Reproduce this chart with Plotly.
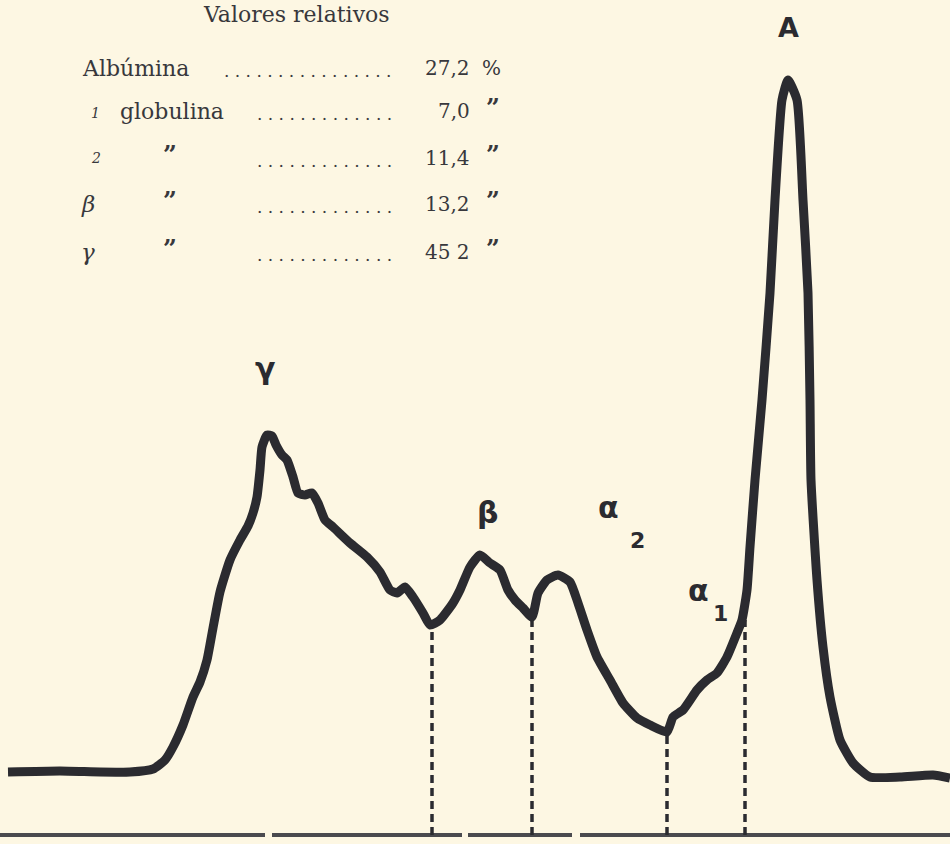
import plotly.graph_objects as go

position = [8, 60, 100, 130, 153, 165, 173, 183, 193, 200, 207, 213, 220, 230, 240, 248, 253, 257,
            260, 262, 267, 272, 276, 282, 287, 293, 298, 305, 312, 318, 325, 333, 350, 367, 380, 390,
            397, 405, 413, 423, 430, 440, 453, 460, 470, 480, 490, 500, 508, 515, 523, 532, 538, 547,
            558, 570, 578, 587, 597, 610, 623, 637, 650, 667, 673, 683, 697, 707, 717, 727, 737, 742,
            747, 750, 755, 762, 770, 775, 782, 788, 797, 803, 808, 810, 811, 817, 823, 830, 840, 853,
            870, 900, 933, 950]
page_y = [772, 771, 772, 772, 769, 760, 747, 725, 697, 682, 660, 628, 592, 560, 540, 526, 513, 497,
          470, 447, 435, 436, 445, 455, 460, 477, 493, 495, 493, 503, 520, 527, 543, 557, 572, 590,
          593, 587, 597, 613, 625, 620, 603, 590, 567, 555, 563, 570, 590, 600, 608, 617, 593, 580,
          575, 582, 603, 630, 657, 680, 703, 718, 725, 732, 717, 710, 690, 680, 673, 657, 633, 620,
          590, 547, 480, 400, 293, 200, 100, 80, 100, 200, 293, 400, 480, 580, 647, 697, 740, 763,
          777, 777, 775, 778]
PAGE_H = 844
density = [PAGE_H - v for v in page_y]

# fraction boundaries (dashed lines): x position and curve height there
cut_x = [432, 532, 667, 745]
cut_top = [PAGE_H - 625, PAGE_H - 617, PAGE_H - 732, PAGE_H - 620]
base_level = PAGE_H - 835

# baseline segments
base_segments = [(0, 265), (272, 462), (468, 572), (580, 950)]

# fraction labels on the curve
peak_labels = ["γ", "β", "α", "α", "A"]
peak_lab_x = [265, 487, 608, 698, 788]
peak_lab_y = [PAGE_H - 368, PAGE_H - 512, PAGE_H - 507, PAGE_H - 590, PAGE_H - 27]
sub_labels = ["2", "1"]
sub_lab_x = [637, 720]
sub_lab_y = [PAGE_H - 540, PAGE_H - 613]

# table of relative values
table_names = ["Albúmina", "globulina", "”", "”", "”"]
table_prefix = ["", "1", "2", "β", "γ"]
table_values = ["27,2", "7,0", "11,4", "13,2", "45 2"]
table_units = ["%", "”", "”", "”", "”"]
table_dots = [16, 13, 13, 13, 13]
row_y_page = [68, 111, 158, 204, 252]

BG = "#fdf7e3"
INK = "#2b2b30"
TXT = "#38383c"

fig = go.Figure()

# baseline
for a, b in base_segments:
    fig.add_trace(go.Scatter(x=[a, b], y=[base_level, base_level], mode="lines",
                             line=dict(color="#4a4a4e", width=4), hoverinfo="skip",
                             showlegend=False))

# dashed fraction limits
for cx, ct in zip(cut_x, cut_top):
    fig.add_trace(go.Scatter(x=[cx, cx], y=[base_level, ct], mode="lines",
                             line=dict(color=INK, width=3.5, dash="8px,5px"),
                             hoverinfo="skip", showlegend=False))

# densitometric curve
fig.add_trace(go.Scatter(x=position, y=density, mode="lines",
                         line=dict(color=INK, width=9, shape="spline", smoothing=0.5),
                         showlegend=False))

ann = []
hand = dict(family="DejaVu Sans", size=30, color=INK)
for t, x, y in zip(peak_labels, peak_lab_x, peak_lab_y):
    f = dict(hand)
    if t == "A":
        f["size"] = 27
    ann.append(dict(x=x, y=y, text="<b>%s</b>" % t, showarrow=False, font=f,
                    xanchor="center", yanchor="middle"))
for t, x, y in zip(sub_labels, sub_lab_x, sub_lab_y):
    ann.append(dict(x=x, y=y, text="<b>%s</b>" % t, showarrow=False,
                    font=dict(family="DejaVu Sans", size=22, color=INK),
                    xanchor="center", yanchor="middle"))

word = dict(family="DejaVu Serif", size=22, color=TXT)
num = dict(family="DejaVu Serif", size=20, color=TXT)
ditto = dict(family="DejaVu Serif", size=24, color=TXT)
small = dict(family="DejaVu Serif", size=14, color=TXT)

# title at the top edge of the page
ann.append(dict(x=296, xref="x", y=1, yref="paper", yshift=0, text="Valores relativos",
                showarrow=False, font=dict(family="DejaVu Serif", size=22, color=TXT),
                xanchor="center", yanchor="top"))

for i in range(5):
    yy = PAGE_H - row_y_page[i]
    if i == 0:
        ann.append(dict(x=80, y=yy, text=table_names[i], showarrow=False, font=word,
                        xanchor="left", yanchor="middle"))
    elif i == 1:
        ann.append(dict(x=95, y=yy - 2, text="<i>%s</i>" % table_prefix[i], showarrow=False,
                        font=small, xanchor="center", yanchor="middle"))
        ann.append(dict(x=118, y=yy, text=table_names[i], showarrow=False, font=word,
                        xanchor="left", yanchor="middle"))
    else:
        if i == 2:
            ann.append(dict(x=96, y=yy, text="<i>%s</i>" % table_prefix[i], showarrow=False,
                            font=small, xanchor="center", yanchor="middle"))
        else:
            ann.append(dict(x=88, y=yy, text="<i>%s</i>" % table_prefix[i], showarrow=False,
                            font=dict(family="DejaVu Serif", size=23, color=TXT),
                            xanchor="center", yanchor="middle"))
        ann.append(dict(x=170, y=yy + 4, text="<b>%s</b>" % table_names[i], showarrow=False,
                        font=ditto, xanchor="center", yanchor="middle"))
    ann.append(dict(x=394, y=yy - 3, text=" ".join(["."] * table_dots[i]), showarrow=False,
                    font=dict(family="DejaVu Serif", size=17, color=TXT),
                    xanchor="right", yanchor="middle"))
    ann.append(dict(x=472, y=yy, text=table_values[i], showarrow=False, font=num,
                    xanchor="right", yanchor="middle"))
    if i == 0:
        ann.append(dict(x=491, y=yy, text=table_units[i], showarrow=False, font=num,
                        xanchor="center", yanchor="middle"))
    else:
        ann.append(dict(x=493, y=yy + 4, text="<b>%s</b>" % table_units[i], showarrow=False,
                        font=ditto, xanchor="center", yanchor="middle"))

fig.update_layout(
    width=950, height=844,
    margin=dict(l=0, r=0, t=0, b=0),
    paper_bgcolor=BG, plot_bgcolor=BG,
    xaxis=dict(range=[0, 950], visible=False, fixedrange=True),
    yaxis=dict(range=[0, PAGE_H], visible=False, fixedrange=True),
    annotations=ann,
    showlegend=False,
)

fig.write_html("out.html", config={"displayModeBar": False},
               post_script="document.body.style.margin='0';document.body.style.background='%s';" % BG)
